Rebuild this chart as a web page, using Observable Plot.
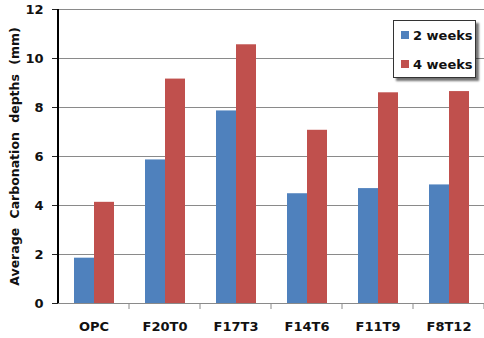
<!DOCTYPE html>
<html>
<head>
<meta charset="utf-8">
<script src="https://cdn.jsdelivr.net/npm/d3@7"></script>
<script src="https://cdn.jsdelivr.net/npm/@observablehq/plot@0.6"></script>
<style>
  body { margin: 0; background: #fff; }
  #chart { position: relative; width: 484px; height: 338px; overflow: hidden; }
  .legend {
    position: absolute; left: 393px; top: 20px; width: 83px; height: 58px;
    box-sizing: border-box; border: 1px solid #333; background: #fff;
    box-shadow: 3px 3px 2px rgba(0,0,0,0.55);
    font: bold 13px "DejaVu Sans", sans-serif; color: #111;
  }
  .legend .item { position: absolute; left: 7px; display: flex; align-items: center; height: 16px; white-space: nowrap; }
  .legend .swatch { width: 8px; height: 8px; margin-right: 4px; }
</style>
</head>
<body>
<div id="chart"></div>
<script>
// Mix designs and curing ages
const mixes = ["OPC", "F20T0", "F17T3", "F14T6", "F11T9", "F8T12"];
const ages = ["2 weeks", "4 weeks"];
// Average carbonation depth (mm)
const depth2w = [1.85, 5.86, 7.86, 4.48, 4.69, 4.84];
const depth4w = [4.13, 9.16, 10.56, 7.07, 8.60, 8.65];
const colors = ["#4F81BD", "#C0504D"];
const yTicks = [0, 2, 4, 6, 8, 10, 12];
const yTitle = "Average Carbonation depths (mm)";

const rows = mixes.flatMap((m, i) => [
  { mix: m, age: ages[0], depth: depth2w[i] },
  { mix: m, age: ages[1], depth: depth4w[i] }
]);

const chart = Plot.plot({
  width: 484,
  height: 338,
  marginLeft: 58,
  marginTop: 9,
  marginBottom: 35,
  marginRight: 0,
  style: { fontFamily: "DejaVu Sans, sans-serif", fontSize: "13px", fontWeight: "bold", color: "#111", background: "#fff" },
  fx: { domain: mixes, padding: 0, label: null, axis: null },
  x: { domain: ages, paddingInner: 0, paddingOuter: 0.73, axis: null },
  y: { domain: [0, 12], label: null, axis: null },
  color: { domain: ages, range: colors },
  marks: [
    Plot.ruleY(yTicks, { stroke: "#8a8a8a", strokeWidth: 1 }),
    Plot.barY(rows, { fx: "mix", x: "age", y: "depth", fill: "age" }),
    Plot.axisY(yTicks, { tickSize: 6, tickPadding: 9, stroke: "#222", fontWeight: "bold", fontSize: 13, label: null }),
    Plot.axisFx({ anchor: "bottom", tickSize: 0, tickPadding: 18, fontWeight: "bold", fontSize: 13, label: null }),
    Plot.text([yTitle], { text: d => d, frameAnchor: "left", textAnchor: "middle", rotate: -90, dx: -44, fontSize: 12.5, fontWeight: "bold", fill: "#111", facet: "super" })
  ]
});

const host = document.getElementById("chart");
host.appendChild(chart);

const svg = d3.select(chart);
// wider word gaps in the axis title
svg.selectAll("text").filter(function () { return this.textContent === yTitle; })
  .style("word-spacing", "5px");

// y axis line and category boundary ticks along the baseline
const fx = chart.scale("fx");
const y = chart.scale("y");
const y0 = y.apply(0);
const y12 = y.apply(12);
const bw = fx.bandwidth;
const left = fx.apply(mixes[0]);
svg.append("line")
  .attr("x1", left).attr("x2", left).attr("y1", y12).attr("y2", y0)
  .attr("stroke", "#000").attr("stroke-width", 2);
const bounds = mixes.map(m => fx.apply(m)).concat([fx.apply(mixes[mixes.length - 1]) + bw]);
svg.append("g").selectAll("line").data(bounds.slice(1)).join("line")
  .attr("x1", d => d).attr("x2", d => d)
  .attr("y1", y0).attr("y2", y0 + 6)
  .attr("stroke", "#8a8a8a");

// Legend
const legend = d3.select(host).append("div").attr("class", "legend");
ages.forEach((a, i) => {
  const item = legend.append("div").attr("class", "item").style("top", (i === 0 ? 6 : 35) + "px");
  item.append("div").attr("class", "swatch").style("background", colors[i]);
  item.append("span").text(a);
});
</script>
</body>
</html>
